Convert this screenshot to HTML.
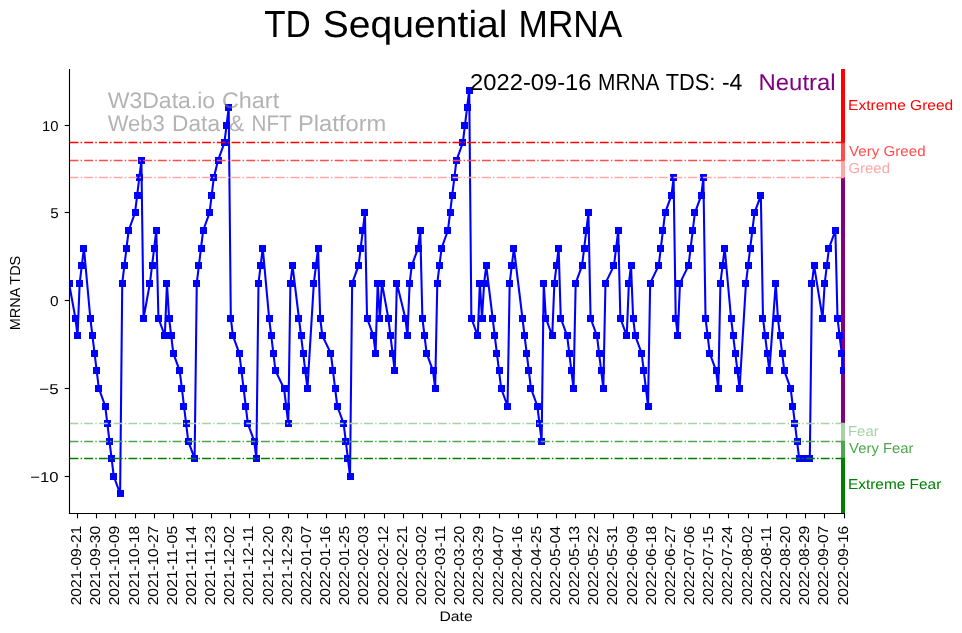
<!DOCTYPE html><html><head><meta charset="utf-8"><style>html,body{margin:0;padding:0;background:#fff;overflow:hidden}svg{display:block;will-change:transform}text{font-family:"Liberation Sans",sans-serif;text-rendering:geometricPrecision}</style></head><body>
<svg width="962" height="633" viewBox="0 0 962 633">
<rect width="962" height="633" fill="#fff"/>
<text x="264.13" y="36.80" font-size="37.65" fill="#000" textLength="46.65" lengthAdjust="spacingAndGlyphs">TD</text>
<text x="322.80" y="36.80" font-size="37.65" fill="#000" textLength="184.72" lengthAdjust="spacingAndGlyphs">Sequential</text>
<text x="518.61" y="36.80" font-size="37.65" fill="#000" textLength="103.67" lengthAdjust="spacingAndGlyphs">MRNA</text>
<defs><clipPath id="ax"><rect x="70" y="69.6" width="775" height="443.9"/></clipPath></defs>
<rect x="841" y="69.00" width="4" height="73.00" fill="#ff0000"/>
<rect x="841" y="142.00" width="4" height="18.00" fill="#ff4d4d"/>
<rect x="841" y="160.00" width="4" height="17.00" fill="#ffa6a6"/>
<rect x="841" y="177.00" width="4" height="246.00" fill="#800080"/>
<rect x="841" y="423.00" width="4" height="18.00" fill="#a6d2a6"/>
<rect x="841" y="441.00" width="4" height="17.00" fill="#4da64d"/>
<rect x="841" y="458.00" width="4" height="55.00" fill="#008000"/>
<g clip-path="url(#ax)"><polyline points="69.04,283.15 75.42,318.25 77.55,335.80 79.68,283.15 81.81,265.60 83.94,248.05 90.32,318.25 92.45,335.80 94.58,353.35 96.71,370.90 98.84,388.45 105.22,406.00 107.35,423.55 109.48,441.10 111.61,458.65 113.74,476.20 120.12,493.75 122.25,283.15 124.38,265.60 126.51,248.05 128.64,230.50 135.02,212.95 137.15,195.40 139.28,177.85 141.41,160.30 143.54,318.25 149.93,283.15 152.05,265.60 154.18,248.05 156.31,230.50 158.44,318.25 164.83,335.80 166.96,283.15 169.08,318.25 171.21,335.80 173.34,353.35 179.73,370.90 181.86,388.45 183.98,406.00 186.11,423.55 188.24,441.10 194.63,458.65 196.76,283.15 198.89,265.60 201.01,248.05 203.14,230.50 209.53,212.95 211.66,195.40 213.79,177.85 218.04,160.30 224.43,142.75 226.56,125.20 228.69,107.65 230.82,318.25 232.95,335.80 239.33,353.35 241.46,370.90 243.59,388.45 245.72,406.00 247.85,423.55 254.23,441.10 256.36,458.65 258.49,283.15 260.62,265.60 262.75,248.05 269.13,318.25 271.26,335.80 273.39,353.35 275.52,370.90 284.03,388.45 286.16,406.00 288.29,423.55 290.42,283.15 292.55,265.60 298.93,318.25 301.06,335.80 303.19,353.35 305.32,370.90 307.45,388.45 313.84,283.15 315.96,265.60 318.09,248.05 320.22,318.25 322.35,335.80 330.87,353.35 332.99,370.90 335.12,388.45 337.25,406.00 343.64,423.55 345.77,441.10 347.89,458.65 350.02,476.20 352.15,283.15 358.54,265.60 360.67,248.05 362.80,230.50 364.92,212.95 367.05,318.25 373.44,335.80 375.57,353.35 377.70,283.15 379.83,318.25 381.95,283.15 388.34,318.25 390.47,335.80 392.60,353.35 394.73,370.90 396.85,283.15 405.37,318.25 407.50,335.80 409.63,283.15 411.76,265.60 418.14,248.05 420.27,230.50 422.40,318.25 424.53,335.80 426.66,353.35 433.04,370.90 435.17,388.45 437.30,283.15 439.43,265.60 441.56,248.05 447.94,230.50 450.07,212.95 452.20,195.40 454.33,177.85 456.46,160.30 462.84,142.75 464.97,125.20 467.10,107.65 469.23,90.10 471.36,318.25 477.75,335.80 479.87,283.15 482.00,318.25 484.13,283.15 486.26,265.60 492.65,318.25 494.78,335.80 496.90,353.35 499.03,370.90 501.16,388.45 507.55,406.00 509.68,283.15 511.80,265.60 513.93,248.05 522.45,318.25 524.58,335.80 526.71,353.35 528.83,370.90 530.96,388.45 537.35,406.00 539.48,423.55 541.61,441.10 543.74,283.15 545.86,318.25 552.25,335.80 554.38,283.15 556.51,265.60 558.64,248.05 560.76,318.25 567.15,335.80 569.28,353.35 571.41,370.90 573.54,388.45 575.67,283.15 582.05,265.60 584.18,248.05 586.31,230.50 588.44,212.95 590.57,318.25 596.95,335.80 599.08,353.35 601.21,370.90 603.34,388.45 605.47,283.15 613.98,265.60 616.11,248.05 618.24,230.50 620.37,318.25 626.75,335.80 628.88,283.15 631.01,265.60 633.14,318.25 635.27,335.80 641.66,353.35 643.78,370.90 645.91,388.45 648.04,406.00 650.17,283.15 658.69,265.60 660.81,248.05 662.94,230.50 665.07,212.95 671.46,195.40 673.59,177.85 675.71,318.25 677.84,335.80 679.97,283.15 688.49,265.60 690.62,248.05 692.74,230.50 694.87,212.95 701.26,195.40 703.39,177.85 705.52,318.25 707.65,335.80 709.77,353.35 716.16,370.90 718.29,388.45 720.42,283.15 722.55,265.60 724.67,248.05 731.06,318.25 733.19,335.80 735.32,353.35 737.45,370.90 739.58,388.45 745.96,283.15 748.09,265.60 750.22,248.05 752.35,230.50 754.48,212.95 760.86,195.40 762.99,318.25 765.12,335.80 767.25,353.35 769.38,370.90 775.76,283.15 777.89,318.25 780.02,335.80 782.15,353.35 784.28,370.90 790.66,388.45 792.79,406.00 794.92,423.55 797.05,441.10 799.18,458.65 805.57,458.65 807.69,458.65 809.82,458.65 811.95,283.15 814.08,265.60 822.59,318.25 824.72,283.15 826.85,265.60 828.98,248.05 835.37,230.50 837.50,318.25 839.62,335.80 841.75,353.35 843.88,370.90" fill="none" stroke="#0000ff" stroke-width="2.08" stroke-linejoin="round" stroke-linecap="butt"/>
<rect x="66" y="280" width="7" height="7" fill="#0000ff"/>
<rect x="72" y="315" width="7" height="7" fill="#0000ff"/>
<rect x="74" y="332" width="7" height="7" fill="#0000ff"/>
<rect x="76" y="280" width="7" height="7" fill="#0000ff"/>
<rect x="78" y="262" width="7" height="7" fill="#0000ff"/>
<rect x="80" y="245" width="7" height="7" fill="#0000ff"/>
<rect x="87" y="315" width="7" height="7" fill="#0000ff"/>
<rect x="89" y="332" width="7" height="7" fill="#0000ff"/>
<rect x="91" y="350" width="7" height="7" fill="#0000ff"/>
<rect x="93" y="367" width="7" height="7" fill="#0000ff"/>
<rect x="95" y="385" width="7" height="7" fill="#0000ff"/>
<rect x="102" y="403" width="7" height="7" fill="#0000ff"/>
<rect x="104" y="420" width="7" height="7" fill="#0000ff"/>
<rect x="106" y="438" width="7" height="7" fill="#0000ff"/>
<rect x="108" y="455" width="7" height="7" fill="#0000ff"/>
<rect x="110" y="473" width="7" height="7" fill="#0000ff"/>
<rect x="117" y="490" width="7" height="7" fill="#0000ff"/>
<rect x="119" y="280" width="7" height="7" fill="#0000ff"/>
<rect x="121" y="262" width="7" height="7" fill="#0000ff"/>
<rect x="123" y="245" width="7" height="7" fill="#0000ff"/>
<rect x="125" y="227" width="7" height="7" fill="#0000ff"/>
<rect x="132" y="209" width="7" height="7" fill="#0000ff"/>
<rect x="134" y="192" width="7" height="7" fill="#0000ff"/>
<rect x="136" y="174" width="7" height="7" fill="#0000ff"/>
<rect x="138" y="157" width="7" height="7" fill="#0000ff"/>
<rect x="140" y="315" width="7" height="7" fill="#0000ff"/>
<rect x="146" y="280" width="7" height="7" fill="#0000ff"/>
<rect x="149" y="262" width="7" height="7" fill="#0000ff"/>
<rect x="151" y="245" width="7" height="7" fill="#0000ff"/>
<rect x="153" y="227" width="7" height="7" fill="#0000ff"/>
<rect x="155" y="315" width="7" height="7" fill="#0000ff"/>
<rect x="161" y="332" width="7" height="7" fill="#0000ff"/>
<rect x="163" y="280" width="7" height="7" fill="#0000ff"/>
<rect x="166" y="315" width="7" height="7" fill="#0000ff"/>
<rect x="168" y="332" width="7" height="7" fill="#0000ff"/>
<rect x="170" y="350" width="7" height="7" fill="#0000ff"/>
<rect x="176" y="367" width="7" height="7" fill="#0000ff"/>
<rect x="178" y="385" width="7" height="7" fill="#0000ff"/>
<rect x="180" y="403" width="7" height="7" fill="#0000ff"/>
<rect x="183" y="420" width="7" height="7" fill="#0000ff"/>
<rect x="185" y="438" width="7" height="7" fill="#0000ff"/>
<rect x="191" y="455" width="7" height="7" fill="#0000ff"/>
<rect x="193" y="280" width="7" height="7" fill="#0000ff"/>
<rect x="195" y="262" width="7" height="7" fill="#0000ff"/>
<rect x="198" y="245" width="7" height="7" fill="#0000ff"/>
<rect x="200" y="227" width="7" height="7" fill="#0000ff"/>
<rect x="206" y="209" width="7" height="7" fill="#0000ff"/>
<rect x="208" y="192" width="7" height="7" fill="#0000ff"/>
<rect x="210" y="174" width="7" height="7" fill="#0000ff"/>
<rect x="215" y="157" width="7" height="7" fill="#0000ff"/>
<rect x="221" y="139" width="7" height="7" fill="#0000ff"/>
<rect x="223" y="122" width="7" height="7" fill="#0000ff"/>
<rect x="225" y="104" width="7" height="7" fill="#0000ff"/>
<rect x="227" y="315" width="7" height="7" fill="#0000ff"/>
<rect x="229" y="332" width="7" height="7" fill="#0000ff"/>
<rect x="236" y="350" width="7" height="7" fill="#0000ff"/>
<rect x="238" y="367" width="7" height="7" fill="#0000ff"/>
<rect x="240" y="385" width="7" height="7" fill="#0000ff"/>
<rect x="242" y="403" width="7" height="7" fill="#0000ff"/>
<rect x="244" y="420" width="7" height="7" fill="#0000ff"/>
<rect x="251" y="438" width="7" height="7" fill="#0000ff"/>
<rect x="253" y="455" width="7" height="7" fill="#0000ff"/>
<rect x="255" y="280" width="7" height="7" fill="#0000ff"/>
<rect x="257" y="262" width="7" height="7" fill="#0000ff"/>
<rect x="259" y="245" width="7" height="7" fill="#0000ff"/>
<rect x="266" y="315" width="7" height="7" fill="#0000ff"/>
<rect x="268" y="332" width="7" height="7" fill="#0000ff"/>
<rect x="270" y="350" width="7" height="7" fill="#0000ff"/>
<rect x="272" y="367" width="7" height="7" fill="#0000ff"/>
<rect x="281" y="385" width="7" height="7" fill="#0000ff"/>
<rect x="283" y="403" width="7" height="7" fill="#0000ff"/>
<rect x="285" y="420" width="7" height="7" fill="#0000ff"/>
<rect x="287" y="280" width="7" height="7" fill="#0000ff"/>
<rect x="289" y="262" width="7" height="7" fill="#0000ff"/>
<rect x="295" y="315" width="7" height="7" fill="#0000ff"/>
<rect x="298" y="332" width="7" height="7" fill="#0000ff"/>
<rect x="300" y="350" width="7" height="7" fill="#0000ff"/>
<rect x="302" y="367" width="7" height="7" fill="#0000ff"/>
<rect x="304" y="385" width="7" height="7" fill="#0000ff"/>
<rect x="310" y="280" width="7" height="7" fill="#0000ff"/>
<rect x="312" y="262" width="7" height="7" fill="#0000ff"/>
<rect x="315" y="245" width="7" height="7" fill="#0000ff"/>
<rect x="317" y="315" width="7" height="7" fill="#0000ff"/>
<rect x="319" y="332" width="7" height="7" fill="#0000ff"/>
<rect x="327" y="350" width="7" height="7" fill="#0000ff"/>
<rect x="329" y="367" width="7" height="7" fill="#0000ff"/>
<rect x="332" y="385" width="7" height="7" fill="#0000ff"/>
<rect x="334" y="403" width="7" height="7" fill="#0000ff"/>
<rect x="340" y="420" width="7" height="7" fill="#0000ff"/>
<rect x="342" y="438" width="7" height="7" fill="#0000ff"/>
<rect x="344" y="455" width="7" height="7" fill="#0000ff"/>
<rect x="347" y="473" width="7" height="7" fill="#0000ff"/>
<rect x="349" y="280" width="7" height="7" fill="#0000ff"/>
<rect x="355" y="262" width="7" height="7" fill="#0000ff"/>
<rect x="357" y="245" width="7" height="7" fill="#0000ff"/>
<rect x="359" y="227" width="7" height="7" fill="#0000ff"/>
<rect x="361" y="209" width="7" height="7" fill="#0000ff"/>
<rect x="364" y="315" width="7" height="7" fill="#0000ff"/>
<rect x="370" y="332" width="7" height="7" fill="#0000ff"/>
<rect x="372" y="350" width="7" height="7" fill="#0000ff"/>
<rect x="374" y="280" width="7" height="7" fill="#0000ff"/>
<rect x="376" y="315" width="7" height="7" fill="#0000ff"/>
<rect x="378" y="280" width="7" height="7" fill="#0000ff"/>
<rect x="385" y="315" width="7" height="7" fill="#0000ff"/>
<rect x="387" y="332" width="7" height="7" fill="#0000ff"/>
<rect x="389" y="350" width="7" height="7" fill="#0000ff"/>
<rect x="391" y="367" width="7" height="7" fill="#0000ff"/>
<rect x="393" y="280" width="7" height="7" fill="#0000ff"/>
<rect x="402" y="315" width="7" height="7" fill="#0000ff"/>
<rect x="404" y="332" width="7" height="7" fill="#0000ff"/>
<rect x="406" y="280" width="7" height="7" fill="#0000ff"/>
<rect x="408" y="262" width="7" height="7" fill="#0000ff"/>
<rect x="415" y="245" width="7" height="7" fill="#0000ff"/>
<rect x="417" y="227" width="7" height="7" fill="#0000ff"/>
<rect x="419" y="315" width="7" height="7" fill="#0000ff"/>
<rect x="421" y="332" width="7" height="7" fill="#0000ff"/>
<rect x="423" y="350" width="7" height="7" fill="#0000ff"/>
<rect x="430" y="367" width="7" height="7" fill="#0000ff"/>
<rect x="432" y="385" width="7" height="7" fill="#0000ff"/>
<rect x="434" y="280" width="7" height="7" fill="#0000ff"/>
<rect x="436" y="262" width="7" height="7" fill="#0000ff"/>
<rect x="438" y="245" width="7" height="7" fill="#0000ff"/>
<rect x="444" y="227" width="7" height="7" fill="#0000ff"/>
<rect x="447" y="209" width="7" height="7" fill="#0000ff"/>
<rect x="449" y="192" width="7" height="7" fill="#0000ff"/>
<rect x="451" y="174" width="7" height="7" fill="#0000ff"/>
<rect x="453" y="157" width="7" height="7" fill="#0000ff"/>
<rect x="459" y="139" width="7" height="7" fill="#0000ff"/>
<rect x="461" y="122" width="7" height="7" fill="#0000ff"/>
<rect x="464" y="104" width="7" height="7" fill="#0000ff"/>
<rect x="466" y="87" width="7" height="7" fill="#0000ff"/>
<rect x="468" y="315" width="7" height="7" fill="#0000ff"/>
<rect x="474" y="332" width="7" height="7" fill="#0000ff"/>
<rect x="476" y="280" width="7" height="7" fill="#0000ff"/>
<rect x="479" y="315" width="7" height="7" fill="#0000ff"/>
<rect x="481" y="280" width="7" height="7" fill="#0000ff"/>
<rect x="483" y="262" width="7" height="7" fill="#0000ff"/>
<rect x="489" y="315" width="7" height="7" fill="#0000ff"/>
<rect x="491" y="332" width="7" height="7" fill="#0000ff"/>
<rect x="493" y="350" width="7" height="7" fill="#0000ff"/>
<rect x="496" y="367" width="7" height="7" fill="#0000ff"/>
<rect x="498" y="385" width="7" height="7" fill="#0000ff"/>
<rect x="504" y="403" width="7" height="7" fill="#0000ff"/>
<rect x="506" y="280" width="7" height="7" fill="#0000ff"/>
<rect x="508" y="262" width="7" height="7" fill="#0000ff"/>
<rect x="510" y="245" width="7" height="7" fill="#0000ff"/>
<rect x="519" y="315" width="7" height="7" fill="#0000ff"/>
<rect x="521" y="332" width="7" height="7" fill="#0000ff"/>
<rect x="523" y="350" width="7" height="7" fill="#0000ff"/>
<rect x="525" y="367" width="7" height="7" fill="#0000ff"/>
<rect x="527" y="385" width="7" height="7" fill="#0000ff"/>
<rect x="534" y="403" width="7" height="7" fill="#0000ff"/>
<rect x="536" y="420" width="7" height="7" fill="#0000ff"/>
<rect x="538" y="438" width="7" height="7" fill="#0000ff"/>
<rect x="540" y="280" width="7" height="7" fill="#0000ff"/>
<rect x="542" y="315" width="7" height="7" fill="#0000ff"/>
<rect x="549" y="332" width="7" height="7" fill="#0000ff"/>
<rect x="551" y="280" width="7" height="7" fill="#0000ff"/>
<rect x="553" y="262" width="7" height="7" fill="#0000ff"/>
<rect x="555" y="245" width="7" height="7" fill="#0000ff"/>
<rect x="557" y="315" width="7" height="7" fill="#0000ff"/>
<rect x="564" y="332" width="7" height="7" fill="#0000ff"/>
<rect x="566" y="350" width="7" height="7" fill="#0000ff"/>
<rect x="568" y="367" width="7" height="7" fill="#0000ff"/>
<rect x="570" y="385" width="7" height="7" fill="#0000ff"/>
<rect x="572" y="280" width="7" height="7" fill="#0000ff"/>
<rect x="579" y="262" width="7" height="7" fill="#0000ff"/>
<rect x="581" y="245" width="7" height="7" fill="#0000ff"/>
<rect x="583" y="227" width="7" height="7" fill="#0000ff"/>
<rect x="585" y="209" width="7" height="7" fill="#0000ff"/>
<rect x="587" y="315" width="7" height="7" fill="#0000ff"/>
<rect x="593" y="332" width="7" height="7" fill="#0000ff"/>
<rect x="596" y="350" width="7" height="7" fill="#0000ff"/>
<rect x="598" y="367" width="7" height="7" fill="#0000ff"/>
<rect x="600" y="385" width="7" height="7" fill="#0000ff"/>
<rect x="602" y="280" width="7" height="7" fill="#0000ff"/>
<rect x="610" y="262" width="7" height="7" fill="#0000ff"/>
<rect x="613" y="245" width="7" height="7" fill="#0000ff"/>
<rect x="615" y="227" width="7" height="7" fill="#0000ff"/>
<rect x="617" y="315" width="7" height="7" fill="#0000ff"/>
<rect x="623" y="332" width="7" height="7" fill="#0000ff"/>
<rect x="625" y="280" width="7" height="7" fill="#0000ff"/>
<rect x="628" y="262" width="7" height="7" fill="#0000ff"/>
<rect x="630" y="315" width="7" height="7" fill="#0000ff"/>
<rect x="632" y="332" width="7" height="7" fill="#0000ff"/>
<rect x="638" y="350" width="7" height="7" fill="#0000ff"/>
<rect x="640" y="367" width="7" height="7" fill="#0000ff"/>
<rect x="642" y="385" width="7" height="7" fill="#0000ff"/>
<rect x="645" y="403" width="7" height="7" fill="#0000ff"/>
<rect x="647" y="280" width="7" height="7" fill="#0000ff"/>
<rect x="655" y="262" width="7" height="7" fill="#0000ff"/>
<rect x="657" y="245" width="7" height="7" fill="#0000ff"/>
<rect x="659" y="227" width="7" height="7" fill="#0000ff"/>
<rect x="662" y="209" width="7" height="7" fill="#0000ff"/>
<rect x="668" y="192" width="7" height="7" fill="#0000ff"/>
<rect x="670" y="174" width="7" height="7" fill="#0000ff"/>
<rect x="672" y="315" width="7" height="7" fill="#0000ff"/>
<rect x="674" y="332" width="7" height="7" fill="#0000ff"/>
<rect x="676" y="280" width="7" height="7" fill="#0000ff"/>
<rect x="685" y="262" width="7" height="7" fill="#0000ff"/>
<rect x="687" y="245" width="7" height="7" fill="#0000ff"/>
<rect x="689" y="227" width="7" height="7" fill="#0000ff"/>
<rect x="691" y="209" width="7" height="7" fill="#0000ff"/>
<rect x="698" y="192" width="7" height="7" fill="#0000ff"/>
<rect x="700" y="174" width="7" height="7" fill="#0000ff"/>
<rect x="702" y="315" width="7" height="7" fill="#0000ff"/>
<rect x="704" y="332" width="7" height="7" fill="#0000ff"/>
<rect x="706" y="350" width="7" height="7" fill="#0000ff"/>
<rect x="713" y="367" width="7" height="7" fill="#0000ff"/>
<rect x="715" y="385" width="7" height="7" fill="#0000ff"/>
<rect x="717" y="280" width="7" height="7" fill="#0000ff"/>
<rect x="719" y="262" width="7" height="7" fill="#0000ff"/>
<rect x="721" y="245" width="7" height="7" fill="#0000ff"/>
<rect x="728" y="315" width="7" height="7" fill="#0000ff"/>
<rect x="730" y="332" width="7" height="7" fill="#0000ff"/>
<rect x="732" y="350" width="7" height="7" fill="#0000ff"/>
<rect x="734" y="367" width="7" height="7" fill="#0000ff"/>
<rect x="736" y="385" width="7" height="7" fill="#0000ff"/>
<rect x="742" y="280" width="7" height="7" fill="#0000ff"/>
<rect x="745" y="262" width="7" height="7" fill="#0000ff"/>
<rect x="747" y="245" width="7" height="7" fill="#0000ff"/>
<rect x="749" y="227" width="7" height="7" fill="#0000ff"/>
<rect x="751" y="209" width="7" height="7" fill="#0000ff"/>
<rect x="757" y="192" width="7" height="7" fill="#0000ff"/>
<rect x="759" y="315" width="7" height="7" fill="#0000ff"/>
<rect x="762" y="332" width="7" height="7" fill="#0000ff"/>
<rect x="764" y="350" width="7" height="7" fill="#0000ff"/>
<rect x="766" y="367" width="7" height="7" fill="#0000ff"/>
<rect x="772" y="280" width="7" height="7" fill="#0000ff"/>
<rect x="774" y="315" width="7" height="7" fill="#0000ff"/>
<rect x="777" y="332" width="7" height="7" fill="#0000ff"/>
<rect x="779" y="350" width="7" height="7" fill="#0000ff"/>
<rect x="781" y="367" width="7" height="7" fill="#0000ff"/>
<rect x="787" y="385" width="7" height="7" fill="#0000ff"/>
<rect x="789" y="403" width="7" height="7" fill="#0000ff"/>
<rect x="791" y="420" width="7" height="7" fill="#0000ff"/>
<rect x="794" y="438" width="7" height="7" fill="#0000ff"/>
<rect x="796" y="455" width="7" height="7" fill="#0000ff"/>
<rect x="802" y="455" width="7" height="7" fill="#0000ff"/>
<rect x="804" y="455" width="7" height="7" fill="#0000ff"/>
<rect x="806" y="455" width="7" height="7" fill="#0000ff"/>
<rect x="808" y="280" width="7" height="7" fill="#0000ff"/>
<rect x="811" y="262" width="7" height="7" fill="#0000ff"/>
<rect x="819" y="315" width="7" height="7" fill="#0000ff"/>
<rect x="821" y="280" width="7" height="7" fill="#0000ff"/>
<rect x="823" y="262" width="7" height="7" fill="#0000ff"/>
<rect x="825" y="245" width="7" height="7" fill="#0000ff"/>
<rect x="832" y="227" width="7" height="7" fill="#0000ff"/>
<rect x="834" y="315" width="7" height="7" fill="#0000ff"/>
<rect x="836" y="332" width="7" height="7" fill="#0000ff"/>
<rect x="838" y="350" width="7" height="7" fill="#0000ff"/>
<rect x="840" y="367" width="7" height="7" fill="#0000ff"/>
</g>
<line x1="69.5" y1="142.5" x2="845" y2="142.5" stroke="#ff0000" stroke-width="1.39" stroke-dasharray="8.9 2.22 1.39 2.22"/>
<line x1="69.5" y1="160.5" x2="845" y2="160.5" stroke="#ff4d4d" stroke-width="1.39" stroke-dasharray="8.9 2.22 1.39 2.22"/>
<line x1="69.5" y1="177.5" x2="845" y2="177.5" stroke="#ffa6a6" stroke-width="1.39" stroke-dasharray="8.9 2.22 1.39 2.22"/>
<line x1="69.5" y1="423.5" x2="845" y2="423.5" stroke="#a6d2a6" stroke-width="1.39" stroke-dasharray="8.9 2.22 1.39 2.22"/>
<line x1="69.5" y1="441.5" x2="845" y2="441.5" stroke="#4da64d" stroke-width="1.39" stroke-dasharray="8.9 2.22 1.39 2.22"/>
<line x1="69.5" y1="458.5" x2="845" y2="458.5" stroke="#008000" stroke-width="1.39" stroke-dasharray="8.9 2.22 1.39 2.22"/>
<line x1="69.5" y1="69.6" x2="69.5" y2="513.5" stroke="#000" stroke-width="1.11" stroke-linecap="square"/>
<line x1="69.5" y1="513.5" x2="844.4" y2="513.5" stroke="#000" stroke-width="1.11" stroke-linecap="square"/>
<line x1="64.64" y1="125.50" x2="69.5" y2="125.50" stroke="#000" stroke-width="1.11"/>
<text x="42.07" y="131.00" font-size="14.33" fill="#000" textLength="16.51" lengthAdjust="spacingAndGlyphs">10</text>
<line x1="64.64" y1="212.50" x2="69.5" y2="212.50" stroke="#000" stroke-width="1.11"/>
<text x="50.19" y="218.00" font-size="14.33" fill="#000" textLength="8.45" lengthAdjust="spacingAndGlyphs">5</text>
<line x1="64.64" y1="300.50" x2="69.5" y2="300.50" stroke="#000" stroke-width="1.11"/>
<text x="50.00" y="306.00" font-size="14.33" fill="#000" textLength="8.61" lengthAdjust="spacingAndGlyphs">0</text>
<line x1="64.64" y1="388.50" x2="69.5" y2="388.50" stroke="#000" stroke-width="1.11"/>
<text x="39.37" y="394.00" font-size="14.33" fill="#000" textLength="19.35" lengthAdjust="spacingAndGlyphs">−5</text>
<line x1="64.64" y1="476.50" x2="69.5" y2="476.50" stroke="#000" stroke-width="1.11"/>
<text x="30.28" y="482.00" font-size="14.33" fill="#000" textLength="28.38" lengthAdjust="spacingAndGlyphs">−10</text>
<line x1="77.50" y1="513.5" x2="77.50" y2="518.36" stroke="#000" stroke-width="1.11"/>
<g transform="translate(81.30,0) rotate(-90)"><text x="-605.38" y="0.00" font-size="14.33" fill="#000" textLength="79.65" lengthAdjust="spacingAndGlyphs">2021-09-21</text></g>
<line x1="96.50" y1="513.5" x2="96.50" y2="518.36" stroke="#000" stroke-width="1.11"/>
<g transform="translate(100.30,0) rotate(-90)"><text x="-605.38" y="0.00" font-size="14.33" fill="#000" textLength="79.49" lengthAdjust="spacingAndGlyphs">2021-09-30</text></g>
<line x1="115.50" y1="513.5" x2="115.50" y2="518.36" stroke="#000" stroke-width="1.11"/>
<g transform="translate(119.30,0) rotate(-90)"><text x="-605.38" y="0.00" font-size="14.33" fill="#000" textLength="79.61" lengthAdjust="spacingAndGlyphs">2021-10-09</text></g>
<line x1="135.50" y1="513.5" x2="135.50" y2="518.36" stroke="#000" stroke-width="1.11"/>
<g transform="translate(139.30,0) rotate(-90)"><text x="-605.38" y="0.00" font-size="14.33" fill="#000" textLength="79.55" lengthAdjust="spacingAndGlyphs">2021-10-18</text></g>
<line x1="154.50" y1="513.5" x2="154.50" y2="518.36" stroke="#000" stroke-width="1.11"/>
<g transform="translate(158.30,0) rotate(-90)"><text x="-605.38" y="0.00" font-size="14.33" fill="#000" textLength="79.66" lengthAdjust="spacingAndGlyphs">2021-10-27</text></g>
<line x1="173.50" y1="513.5" x2="173.50" y2="518.36" stroke="#000" stroke-width="1.11"/>
<g transform="translate(177.30,0) rotate(-90)"><text x="-605.39" y="0.00" font-size="14.33" fill="#000" textLength="79.55" lengthAdjust="spacingAndGlyphs">2021-11-05</text></g>
<line x1="192.50" y1="513.5" x2="192.50" y2="518.36" stroke="#000" stroke-width="1.11"/>
<g transform="translate(196.30,0) rotate(-90)"><text x="-605.39" y="0.00" font-size="14.33" fill="#000" textLength="79.34" lengthAdjust="spacingAndGlyphs">2021-11-14</text></g>
<line x1="211.50" y1="513.5" x2="211.50" y2="518.36" stroke="#000" stroke-width="1.11"/>
<g transform="translate(215.30,0) rotate(-90)"><text x="-605.39" y="0.00" font-size="14.33" fill="#000" textLength="79.58" lengthAdjust="spacingAndGlyphs">2021-11-23</text></g>
<line x1="230.50" y1="513.5" x2="230.50" y2="518.36" stroke="#000" stroke-width="1.11"/>
<g transform="translate(234.30,0) rotate(-90)"><text x="-605.38" y="0.00" font-size="14.33" fill="#000" textLength="79.66" lengthAdjust="spacingAndGlyphs">2021-12-02</text></g>
<line x1="249.50" y1="513.5" x2="249.50" y2="518.36" stroke="#000" stroke-width="1.11"/>
<g transform="translate(253.30,0) rotate(-90)"><text x="-605.39" y="0.00" font-size="14.33" fill="#000" textLength="79.67" lengthAdjust="spacingAndGlyphs">2021-12-11</text></g>
<line x1="269.50" y1="513.5" x2="269.50" y2="518.36" stroke="#000" stroke-width="1.11"/>
<g transform="translate(273.30,0) rotate(-90)"><text x="-605.38" y="0.00" font-size="14.33" fill="#000" textLength="79.49" lengthAdjust="spacingAndGlyphs">2021-12-20</text></g>
<line x1="288.50" y1="513.5" x2="288.50" y2="518.36" stroke="#000" stroke-width="1.11"/>
<g transform="translate(292.30,0) rotate(-90)"><text x="-605.38" y="0.00" font-size="14.33" fill="#000" textLength="79.61" lengthAdjust="spacingAndGlyphs">2021-12-29</text></g>
<line x1="307.50" y1="513.5" x2="307.50" y2="518.36" stroke="#000" stroke-width="1.11"/>
<g transform="translate(311.30,0) rotate(-90)"><text x="-605.38" y="0.00" font-size="14.33" fill="#000" textLength="79.66" lengthAdjust="spacingAndGlyphs">2022-01-07</text></g>
<line x1="326.50" y1="513.5" x2="326.50" y2="518.36" stroke="#000" stroke-width="1.11"/>
<g transform="translate(330.30,0) rotate(-90)"><text x="-605.38" y="0.00" font-size="14.33" fill="#000" textLength="79.57" lengthAdjust="spacingAndGlyphs">2022-01-16</text></g>
<line x1="345.50" y1="513.5" x2="345.50" y2="518.36" stroke="#000" stroke-width="1.11"/>
<g transform="translate(349.30,0) rotate(-90)"><text x="-605.38" y="0.00" font-size="14.33" fill="#000" textLength="79.53" lengthAdjust="spacingAndGlyphs">2022-01-25</text></g>
<line x1="364.50" y1="513.5" x2="364.50" y2="518.36" stroke="#000" stroke-width="1.11"/>
<g transform="translate(368.30,0) rotate(-90)"><text x="-605.38" y="0.00" font-size="14.33" fill="#000" textLength="79.57" lengthAdjust="spacingAndGlyphs">2022-02-03</text></g>
<line x1="384.50" y1="513.5" x2="384.50" y2="518.36" stroke="#000" stroke-width="1.11"/>
<g transform="translate(388.30,0) rotate(-90)"><text x="-605.38" y="0.00" font-size="14.33" fill="#000" textLength="79.66" lengthAdjust="spacingAndGlyphs">2022-02-12</text></g>
<line x1="403.50" y1="513.5" x2="403.50" y2="518.36" stroke="#000" stroke-width="1.11"/>
<g transform="translate(407.30,0) rotate(-90)"><text x="-605.38" y="0.00" font-size="14.33" fill="#000" textLength="79.65" lengthAdjust="spacingAndGlyphs">2022-02-21</text></g>
<line x1="422.50" y1="513.5" x2="422.50" y2="518.36" stroke="#000" stroke-width="1.11"/>
<g transform="translate(426.30,0) rotate(-90)"><text x="-605.38" y="0.00" font-size="14.33" fill="#000" textLength="79.66" lengthAdjust="spacingAndGlyphs">2022-03-02</text></g>
<line x1="441.50" y1="513.5" x2="441.50" y2="518.36" stroke="#000" stroke-width="1.11"/>
<g transform="translate(445.30,0) rotate(-90)"><text x="-605.39" y="0.00" font-size="14.33" fill="#000" textLength="79.67" lengthAdjust="spacingAndGlyphs">2022-03-11</text></g>
<line x1="460.50" y1="513.5" x2="460.50" y2="518.36" stroke="#000" stroke-width="1.11"/>
<g transform="translate(464.30,0) rotate(-90)"><text x="-605.38" y="0.00" font-size="14.33" fill="#000" textLength="79.49" lengthAdjust="spacingAndGlyphs">2022-03-20</text></g>
<line x1="479.50" y1="513.5" x2="479.50" y2="518.36" stroke="#000" stroke-width="1.11"/>
<g transform="translate(483.30,0) rotate(-90)"><text x="-605.38" y="0.00" font-size="14.33" fill="#000" textLength="79.61" lengthAdjust="spacingAndGlyphs">2022-03-29</text></g>
<line x1="499.50" y1="513.5" x2="499.50" y2="518.36" stroke="#000" stroke-width="1.11"/>
<g transform="translate(503.30,0) rotate(-90)"><text x="-605.38" y="0.00" font-size="14.33" fill="#000" textLength="79.66" lengthAdjust="spacingAndGlyphs">2022-04-07</text></g>
<line x1="518.50" y1="513.5" x2="518.50" y2="518.36" stroke="#000" stroke-width="1.11"/>
<g transform="translate(522.30,0) rotate(-90)"><text x="-605.38" y="0.00" font-size="14.33" fill="#000" textLength="79.57" lengthAdjust="spacingAndGlyphs">2022-04-16</text></g>
<line x1="537.50" y1="513.5" x2="537.50" y2="518.36" stroke="#000" stroke-width="1.11"/>
<g transform="translate(541.30,0) rotate(-90)"><text x="-605.38" y="0.00" font-size="14.33" fill="#000" textLength="79.53" lengthAdjust="spacingAndGlyphs">2022-04-25</text></g>
<line x1="556.50" y1="513.5" x2="556.50" y2="518.36" stroke="#000" stroke-width="1.11"/>
<g transform="translate(560.30,0) rotate(-90)"><text x="-605.38" y="0.00" font-size="14.33" fill="#000" textLength="79.33" lengthAdjust="spacingAndGlyphs">2022-05-04</text></g>
<line x1="575.50" y1="513.5" x2="575.50" y2="518.36" stroke="#000" stroke-width="1.11"/>
<g transform="translate(579.30,0) rotate(-90)"><text x="-605.38" y="0.00" font-size="14.33" fill="#000" textLength="79.57" lengthAdjust="spacingAndGlyphs">2022-05-13</text></g>
<line x1="594.50" y1="513.5" x2="594.50" y2="518.36" stroke="#000" stroke-width="1.11"/>
<g transform="translate(598.30,0) rotate(-90)"><text x="-605.38" y="0.00" font-size="14.33" fill="#000" textLength="79.66" lengthAdjust="spacingAndGlyphs">2022-05-22</text></g>
<line x1="613.50" y1="513.5" x2="613.50" y2="518.36" stroke="#000" stroke-width="1.11"/>
<g transform="translate(617.30,0) rotate(-90)"><text x="-605.38" y="0.00" font-size="14.33" fill="#000" textLength="79.65" lengthAdjust="spacingAndGlyphs">2022-05-31</text></g>
<line x1="633.50" y1="513.5" x2="633.50" y2="518.36" stroke="#000" stroke-width="1.11"/>
<g transform="translate(637.30,0) rotate(-90)"><text x="-605.38" y="0.00" font-size="14.33" fill="#000" textLength="79.61" lengthAdjust="spacingAndGlyphs">2022-06-09</text></g>
<line x1="652.50" y1="513.5" x2="652.50" y2="518.36" stroke="#000" stroke-width="1.11"/>
<g transform="translate(656.30,0) rotate(-90)"><text x="-605.38" y="0.00" font-size="14.33" fill="#000" textLength="79.55" lengthAdjust="spacingAndGlyphs">2022-06-18</text></g>
<line x1="671.50" y1="513.5" x2="671.50" y2="518.36" stroke="#000" stroke-width="1.11"/>
<g transform="translate(675.30,0) rotate(-90)"><text x="-605.38" y="0.00" font-size="14.33" fill="#000" textLength="79.66" lengthAdjust="spacingAndGlyphs">2022-06-27</text></g>
<line x1="690.50" y1="513.5" x2="690.50" y2="518.36" stroke="#000" stroke-width="1.11"/>
<g transform="translate(694.30,0) rotate(-90)"><text x="-605.38" y="0.00" font-size="14.33" fill="#000" textLength="79.57" lengthAdjust="spacingAndGlyphs">2022-07-06</text></g>
<line x1="709.50" y1="513.5" x2="709.50" y2="518.36" stroke="#000" stroke-width="1.11"/>
<g transform="translate(713.30,0) rotate(-90)"><text x="-605.38" y="0.00" font-size="14.33" fill="#000" textLength="79.53" lengthAdjust="spacingAndGlyphs">2022-07-15</text></g>
<line x1="728.50" y1="513.5" x2="728.50" y2="518.36" stroke="#000" stroke-width="1.11"/>
<g transform="translate(732.30,0) rotate(-90)"><text x="-605.38" y="0.00" font-size="14.33" fill="#000" textLength="79.33" lengthAdjust="spacingAndGlyphs">2022-07-24</text></g>
<line x1="748.50" y1="513.5" x2="748.50" y2="518.36" stroke="#000" stroke-width="1.11"/>
<g transform="translate(752.30,0) rotate(-90)"><text x="-605.38" y="0.00" font-size="14.33" fill="#000" textLength="79.66" lengthAdjust="spacingAndGlyphs">2022-08-02</text></g>
<line x1="767.50" y1="513.5" x2="767.50" y2="518.36" stroke="#000" stroke-width="1.11"/>
<g transform="translate(771.30,0) rotate(-90)"><text x="-605.39" y="0.00" font-size="14.33" fill="#000" textLength="79.67" lengthAdjust="spacingAndGlyphs">2022-08-11</text></g>
<line x1="786.50" y1="513.5" x2="786.50" y2="518.36" stroke="#000" stroke-width="1.11"/>
<g transform="translate(790.30,0) rotate(-90)"><text x="-605.38" y="0.00" font-size="14.33" fill="#000" textLength="79.49" lengthAdjust="spacingAndGlyphs">2022-08-20</text></g>
<line x1="805.50" y1="513.5" x2="805.50" y2="518.36" stroke="#000" stroke-width="1.11"/>
<g transform="translate(809.30,0) rotate(-90)"><text x="-605.38" y="0.00" font-size="14.33" fill="#000" textLength="79.61" lengthAdjust="spacingAndGlyphs">2022-08-29</text></g>
<line x1="824.50" y1="513.5" x2="824.50" y2="518.36" stroke="#000" stroke-width="1.11"/>
<g transform="translate(828.30,0) rotate(-90)"><text x="-605.38" y="0.00" font-size="14.33" fill="#000" textLength="79.66" lengthAdjust="spacingAndGlyphs">2022-09-07</text></g>
<line x1="844.50" y1="513.5" x2="844.50" y2="518.36" stroke="#000" stroke-width="1.11"/>
<g transform="translate(848.30,0) rotate(-90)"><text x="-605.38" y="0.00" font-size="14.33" fill="#000" textLength="79.57" lengthAdjust="spacingAndGlyphs">2022-09-16</text></g>
<text x="439.51" y="620.80" font-size="13.95" fill="#000" textLength="33.18" lengthAdjust="spacingAndGlyphs">Date</text>
<g transform="translate(19.9,0) rotate(-90)"><text x="-330.19" y="0.00" font-size="14.39" fill="#000" textLength="74.45" lengthAdjust="spacingAndGlyphs">MRNA TDS</text></g>
<text x="848.13" y="110.00" font-size="14.39" fill="#ff0000" textLength="105.07" lengthAdjust="spacingAndGlyphs">Extreme Greed</text>
<text x="849.12" y="155.70" font-size="14.39" fill="#ff4d4d" textLength="76.44" lengthAdjust="spacingAndGlyphs">Very Greed</text>
<text x="848.45" y="172.50" font-size="14.39" fill="#ffa6a6" textLength="41.51" lengthAdjust="spacingAndGlyphs">Greed</text>
<text x="847.98" y="435.60" font-size="14.39" fill="#a6d2a6" textLength="30.68" lengthAdjust="spacingAndGlyphs">Fear</text>
<text x="849.13" y="453.40" font-size="14.39" fill="#4da64d" textLength="64.33" lengthAdjust="spacingAndGlyphs">Very Fear</text>
<text x="847.94" y="489.40" font-size="14.39" fill="#008000" textLength="93.33" lengthAdjust="spacingAndGlyphs">Extreme Fear</text>
<text x="107.68" y="107.70" font-size="22.53" fill="#808080" textLength="107.49" lengthAdjust="spacingAndGlyphs" fill-opacity="0.6">W3Data.io</text>
<text x="221.91" y="107.70" font-size="22.53" fill="#808080" textLength="57.24" lengthAdjust="spacingAndGlyphs" fill-opacity="0.6">Chart</text>
<text x="107.69" y="130.60" font-size="22.53" fill="#808080" textLength="57.19" lengthAdjust="spacingAndGlyphs" fill-opacity="0.6">Web3</text>
<text x="172.14" y="130.60" font-size="22.53" fill="#808080" textLength="47.87" lengthAdjust="spacingAndGlyphs" fill-opacity="0.6">Data</text>
<text x="229.00" y="130.60" font-size="22.53" fill="#808080" textLength="15.27" lengthAdjust="spacingAndGlyphs" fill-opacity="0.6">&amp;</text>
<text x="251.51" y="130.60" font-size="22.53" fill="#808080" textLength="40.17" lengthAdjust="spacingAndGlyphs" fill-opacity="0.6">NFT</text>
<text x="297.95" y="130.60" font-size="22.53" fill="#808080" textLength="88.42" lengthAdjust="spacingAndGlyphs" fill-opacity="0.6">Platform</text>
<text x="470.11" y="89.80" font-size="22.92" fill="#000" textLength="121.34" lengthAdjust="spacingAndGlyphs">2022-09-16</text>
<text x="598.09" y="89.80" font-size="23.26" fill="#000" textLength="61.46" lengthAdjust="spacingAndGlyphs">MRNA</text>
<text x="665.72" y="89.80" font-size="23.26" fill="#000" textLength="49.66" lengthAdjust="spacingAndGlyphs">TDS:</text>
<text x="721.89" y="89.80" font-size="23.26" fill="#000" textLength="20.49" lengthAdjust="spacingAndGlyphs">-4</text>
<text x="758.54" y="89.80" font-size="22.82" fill="#800080" textLength="77.08" lengthAdjust="spacingAndGlyphs">Neutral</text>
</svg></body></html>
